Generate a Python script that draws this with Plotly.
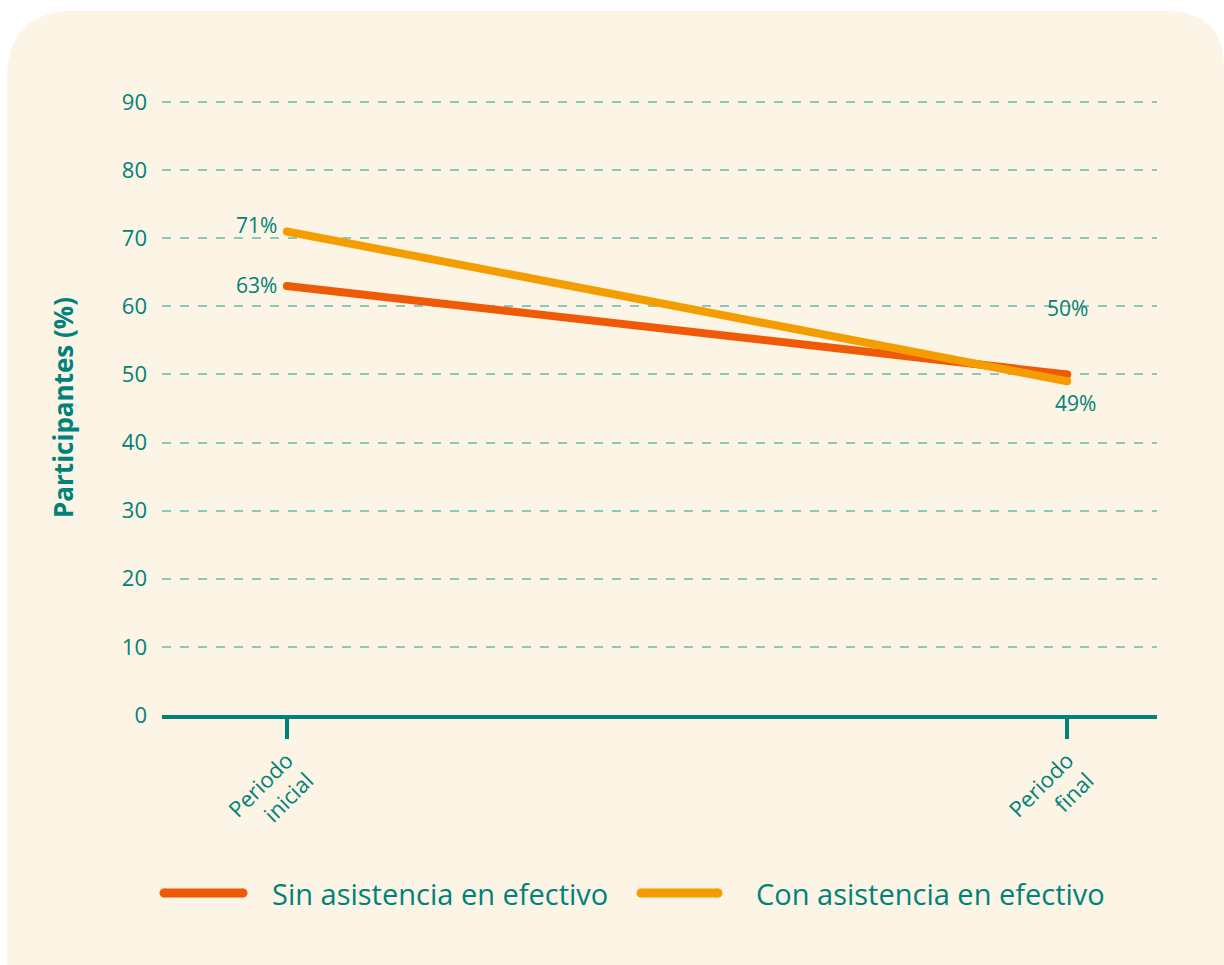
import plotly.graph_objects as go

# Chart data
periods = ["Periodo<br>inicial", "Periodo<br>final"]
series_names = ["Sin asistencia en efectivo", "Con asistencia en efectivo"]
sin_values = [63, 50]
con_values = [71, 49]
y_ticks = [0, 10, 20, 30, 40, 50, 60, 70, 80, 90]

TEAL = "#00827A"
GRID = "#8CC8BA"
CARD = "#FCF4E4"
COLORS = ["#EE5A05", "#F49D00"]
FONT = "'Open Sans', 'Noto Sans', sans-serif"

W, H = 1224, 965
L, R, T, B = 162, 67, 100, 250
PW, PH = W - L - R, H - T - B


def px(x):
    return (x - L) / PW


def py(y):
    return (H - B - y) / PH


fig = go.Figure()

x_idx = list(range(len(periods)))
for name, vals, col in zip(series_names, [sin_values, con_values], COLORS):
    fig.add_trace(go.Scatter(
        x=x_idx, y=vals, name=name, mode="lines+markers",
        line=dict(color=col, width=8),
        marker=dict(color=col, size=8, line=dict(width=0)),
        showlegend=False, hoverinfo="skip",
    ))

# value labels
label_pos = [
    # (series values, index, xanchor, xshift, yshift)
    (sin_values, 0, "right", -8, 1),
    (con_values, 0, "right", -8, 6),
    (sin_values, 1, "center", 0, 66),
    (con_values, 1, "center", 8, -22),
]
for vals, i, xa, xs, ys in label_pos:
    fig.add_annotation(
        x=x_idx[i], y=vals[i], text=f"{vals[i]}%", showarrow=False,
        xanchor=xa, yanchor="middle", xshift=xs, yshift=ys,
        font=dict(family=FONT, size=21, color=TEAL),
    )

# card background with rounded top corners
x0, y0, x1, y1 = 7, 11, 1240, 975
r1, r2 = 68, 58
path = (
    f"M {px(x0)},{py(y1)} "
    f"L {px(x0)},{py(y0 + r1)} "
    f"Q {px(x0)},{py(y0)} {px(x0 + r1)},{py(y0)} "
    f"L {px(1224 - r2)},{py(y0)} "
    f"Q {px(1224)},{py(y0)} {px(1224)},{py(y0 + r2)} "
    f"L {px(x1)},{py(y0 + r2)} L {px(x1)},{py(y1)} Z"
)
fig.add_shape(type="path", path=path, xref="paper", yref="paper",
              fillcolor=CARD, line=dict(width=0), layer="below")

# legend drawn by hand
legend_items = [(160, 247, 270), (637, 722, 754)]
leg_y = 893
for (a, b, t), name, col in zip(legend_items, series_names, COLORS):
    fig.add_shape(type="line", xref="paper", yref="paper",
                  x0=px(a + 4), x1=px(b - 4), y0=py(leg_y), y1=py(leg_y),
                  line=dict(color=col, width=9))
    for cx in (a + 4, b - 4):
        fig.add_shape(type="circle", xref="paper", yref="paper",
                      x0=px(cx - 4.5), x1=px(cx + 4.5),
                      y0=py(leg_y + 4.5), y1=py(leg_y - 4.5),
                      fillcolor=col, line=dict(width=0))
    fig.add_annotation(xref="paper", yref="paper", x=px(t), y=py(leg_y),
                       text=name, showarrow=False, xanchor="left",
                       yanchor="middle",
                       font=dict(family=FONT, size=29, color=TEAL))

fig.update_layout(
    width=W, height=H,
    margin=dict(l=L, r=R, t=T, b=B, pad=0),
    paper_bgcolor="white", plot_bgcolor="rgba(0,0,0,0)",
    font=dict(family=FONT, color=TEAL),
    showlegend=False,
)
fig.update_xaxes(
    range=[-0.16, 1.115], tickvals=x_idx, ticktext=periods,
    tickangle=-45, ticks="outside", ticklen=20, tickwidth=4,
    tickcolor=TEAL, showline=True, linecolor=TEAL, linewidth=4,
    showgrid=False, zeroline=False,
    tickfont=dict(family=FONT, size=22, color=TEAL),
)
fig.update_yaxes(
    range=[0, 90.3], tickvals=y_ticks, showline=False, zeroline=False,
    showgrid=True, gridcolor=GRID, griddash="dash", gridwidth=1.5,
    ticks="", ticklabelstandoff=14,
    tickfont=dict(family=FONT, size=22, color=TEAL),
    title=dict(text="<b>Participantes (%)</b>", standoff=40,
               font=dict(family=FONT, size=26, color=TEAL)),
)

fig.write_html("out.html")
